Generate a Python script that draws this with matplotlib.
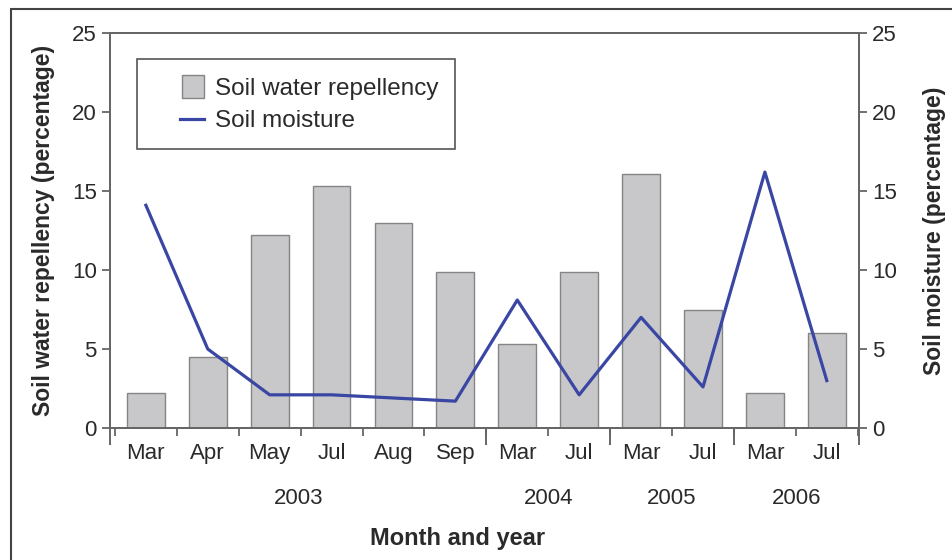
import numpy as np
import matplotlib
matplotlib.use('Agg')
from matplotlib import pyplot as plt
from matplotlib.patches import Rectangle
from matplotlib.lines import Line2D
from matplotlib.legend_handler import HandlerBase

# data
months = ['Mar', 'Apr', 'May', 'Jul', 'Aug', 'Sep', 'Mar', 'Jul', 'Mar', 'Jul', 'Mar', 'Jul']
years = ['2003', '2004', '2005', '2006']
months_per_year = [6, 2, 2, 2]
repellency = [2.2, 4.5, 12.2, 15.3, 13.0, 9.9, 5.3, 9.9, 16.1, 7.5, 2.2, 6.0]
moisture = [14.1, 5.0, 2.1, 2.1, 1.9, 1.7, 8.1, 2.1, 7.0, 2.6, 16.2, 3.0]

plt.rcParams['font.family'] = ['Liberation Sans', 'DejaVu Sans']
plt.rcParams['font.size'] = 16
axis_col = '#666666'
text_col = '#2a2a2a'


# legend handles drawn only in the right part of the handle box (wider left margin)
class RightSquare(HandlerBase):
    def create_artists(self, legend, orig, xd, yd, width, height, fontsize, trans):
        s = 0.92 * fontsize
        r = Rectangle((width - s - xd, (height - s) / 2 - yd), s, s,
                      facecolor=orig.get_facecolor(), edgecolor=orig.get_edgecolor(),
                      lw=orig.get_linewidth(), transform=trans)
        return [r]


class RightLine(HandlerBase):
    def create_artists(self, legend, orig, xd, yd, width, height, fontsize, trans):
        w = 1.0 * fontsize
        l = Line2D([width - w - xd, width - xd], [height / 2 - yd] * 2,
                   color=orig.get_color(), lw=orig.get_linewidth(), transform=trans)
        return [l]


fig = plt.figure(figsize=(9.52, 5.6), dpi=100)
ax = fig.add_axes([0.1155, 0.2357, 0.7868, 0.7053])

x = np.arange(len(months))
bars = ax.bar(x, repellency, width=0.61, color='#c8c8ca', edgecolor='#858585',
              linewidth=1.0, label='Soil water repellency', zorder=2)
ax.set_xlim(-0.58, len(months) - 0.48)
ax.set_ylim(0, 25)
ax.set_yticks(range(0, 26, 5))

ax2 = ax.twinx()
line, = ax2.plot(x, moisture, color='#3a46a3', lw=2.3, label='Soil moisture', zorder=3)
ax2.set_ylim(0, 25)
ax2.set_yticks(range(0, 26, 5))

for a in (ax, ax2):
    for s in a.spines.values():
        s.set_color(axis_col)
        s.set_linewidth(1.4)
    a.tick_params(axis='y', colors=axis_col, labelcolor=text_col, length=6, width=1.3, labelsize=16)

# month labels at bar centres, tick marks at boundaries
ax.set_xticks(x)
ax.set_xticklabels(months)
ax.tick_params(axis='x', which='major', length=0, pad=11, labelsize=16, labelcolor=text_col)
ax.set_xticks(np.arange(len(months) + 1) - 0.5, minor=True)
ax.tick_params(axis='x', which='minor', length=6, width=1.3, colors=axis_col, direction='out')

# year separators and year labels
edges = np.concatenate([[ax.get_xlim()[0]], np.cumsum(months_per_year)[:-1] - 0.5, [ax.get_xlim()[1]]])
sec = ax.secondary_xaxis('bottom')
sec.spines['bottom'].set_color(axis_col)
sec.spines['bottom'].set_linewidth(1.4)
sec.set_xticks(edges)
sec.set_xticklabels([])
sec.tick_params(axis='x', which='major', length=12, width=1.4, colors=axis_col)
sec.set_xticks((edges[:-1] + edges[1:]) / 2, minor=True)
sec.set_xticklabels(years, minor=True)
sec.tick_params(axis='x', which='minor', length=0, pad=43, labelsize=16, labelcolor=text_col)

ax.set_ylabel('Soil water repellency (percentage)', fontsize=16.5, fontweight='bold',
              color=text_col, labelpad=12)
ax2.set_ylabel('Soil moisture (percentage)', fontsize=16.5, fontweight='bold',
               color=text_col, rotation=90, labelpad=19)
fig.text(458 / 952, 1 - 538 / 560, 'Month and year', fontsize=17, fontweight='bold',
         color=text_col, ha='center', va='center')

leg = ax2.legend([bars.patches[0], line], ['Soil water repellency', 'Soil moisture'],
                 handler_map={type(bars.patches[0]): RightSquare(), Line2D: RightLine()},
                 loc='upper left', bbox_to_anchor=(0.036, 0.935), fontsize=17.5,
                 fancybox=False, framealpha=1, edgecolor='#555555',
                 borderpad=0.7, handlelength=2.06, handleheight=1.0,
                 handletextpad=0.45, labelspacing=0.32,
                 labelcolor=text_col, borderaxespad=0)
leg.get_frame().set_linewidth(1.2)

# outer frame of the figure
fig.add_artist(Rectangle((11 / 952, -0.1), 1.2, 1.1 - 9 / 560, transform=fig.transFigure,
                         fill=False, edgecolor='#444444', lw=1.5, clip_on=False))

fig.savefig('out.png', dpi=100)
